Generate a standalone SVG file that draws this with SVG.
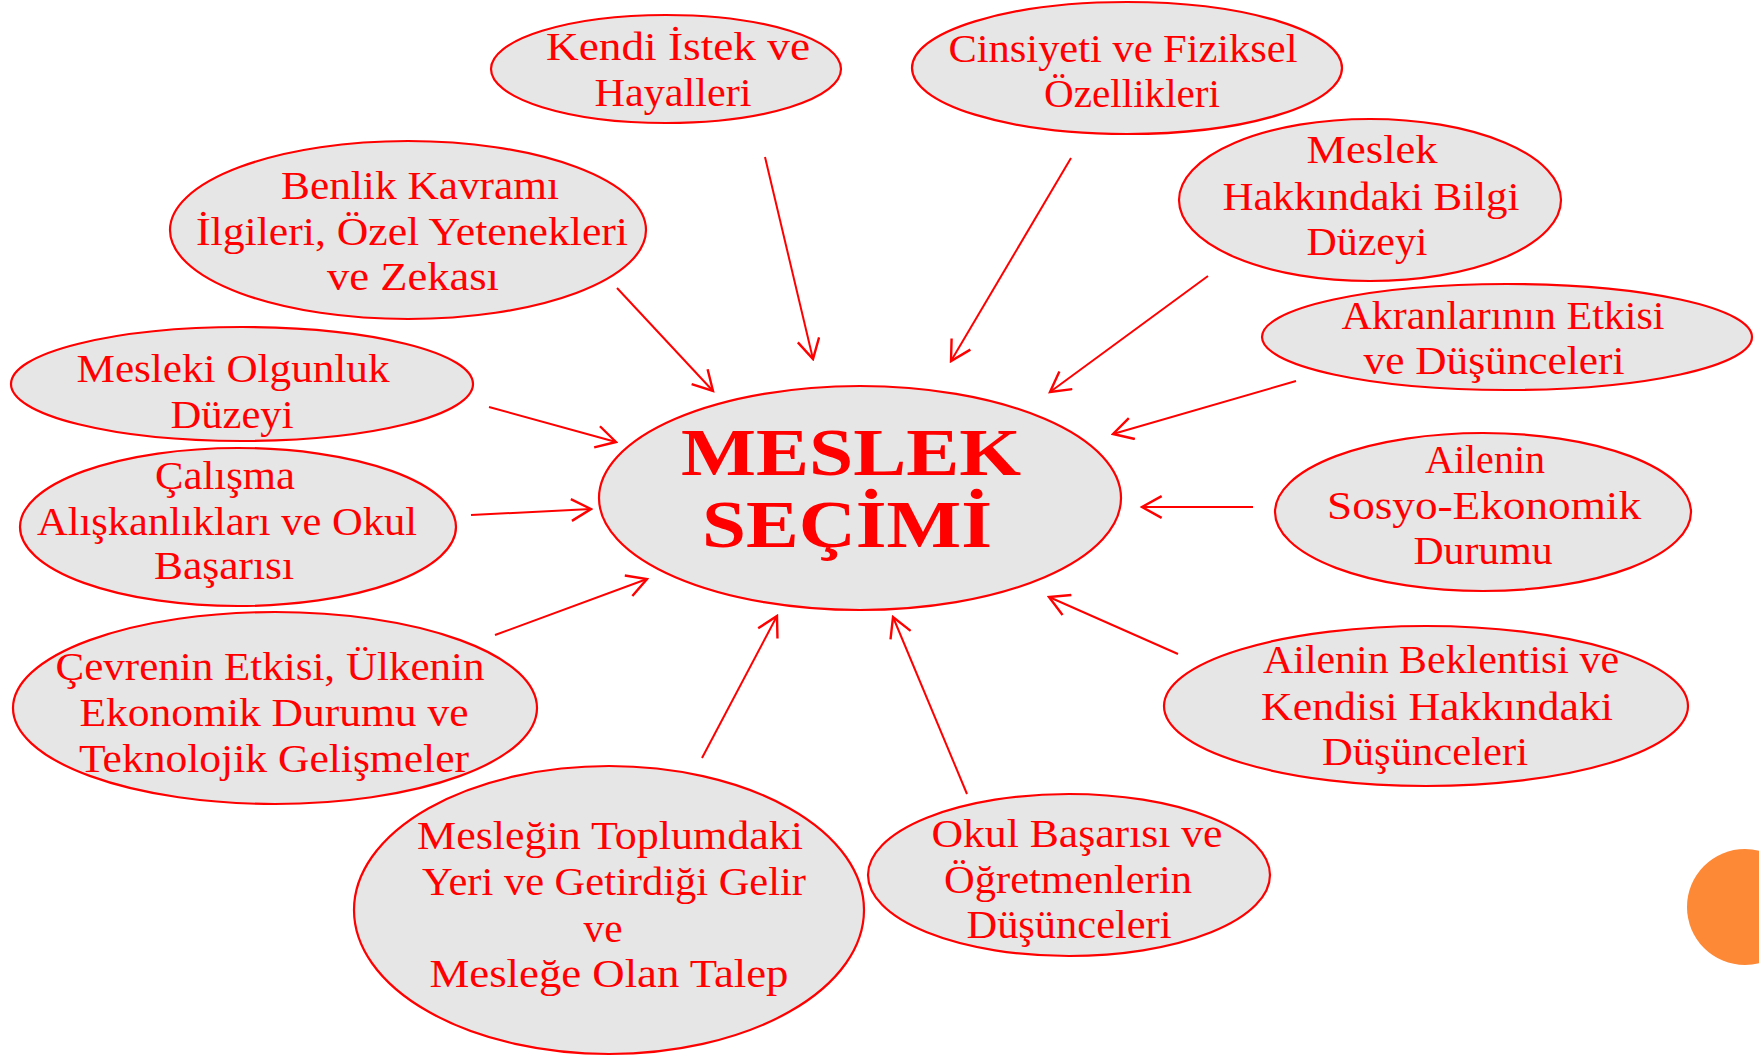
<svg xmlns="http://www.w3.org/2000/svg" width="1759" height="1057" viewBox="0 0 1759 1057">
<defs>
<marker id="ah" markerUnits="userSpaceOnUse" markerWidth="24" markerHeight="24" viewBox="0 0 22 22" refX="20" refY="11" orient="auto">
<path d="M2,1 L20,11 L2,21" fill="none" stroke="#ff0000" stroke-width="2.2"/>
</marker>
<style>
.n ellipse{fill:#e6e6e6;stroke:#ff0000;stroke-width:2.2}
.n text{font-family:"Liberation Serif","Times New Roman",serif;font-size:40px;fill:#ff0000;text-anchor:middle}
.c line{stroke:#ff0000;stroke-width:2;marker-end:url(#ah)}
.big{font-weight:bold;font-size:68px !important}
</style>
</defs>
<rect width="1759" height="1057" fill="#ffffff"/>
<g class="c" id="connectors">
<line x1="765" y1="157" x2="813" y2="359"/>
<line x1="1071" y1="158" x2="951" y2="361"/>
<line x1="1208" y1="276" x2="1050" y2="392"/>
<line x1="1296" y1="381" x2="1113" y2="434"/>
<line x1="1253" y1="507" x2="1142" y2="507"/>
<line x1="1178" y1="654" x2="1049" y2="597"/>
<line x1="967" y1="794" x2="893" y2="617"/>
<line x1="702" y1="758" x2="777" y2="616"/>
<line x1="495" y1="635" x2="647" y2="579"/>
<line x1="471" y1="515" x2="591" y2="509"/>
<line x1="489" y1="407" x2="616" y2="442"/>
<line x1="617" y1="288" x2="713" y2="391"/>
</g>
<g class="n" id="center">
<ellipse cx="860" cy="498" rx="261" ry="112"/>
<text class="big" x="851" y="475" textLength="340" lengthAdjust="spacingAndGlyphs">MESLEK</text>
<text class="big" x="847" y="547" textLength="290" lengthAdjust="spacingAndGlyphs">SEÇİMİ</text>
</g>
<g class="n" id="n1">
<ellipse cx="666" cy="69" rx="175" ry="54"/>
<text x="678" y="60" textLength="264" lengthAdjust="spacingAndGlyphs">Kendi İstek ve</text>
<text x="673" y="106" textLength="157" lengthAdjust="spacingAndGlyphs">Hayalleri</text>
</g>
<g class="n" id="n2">
<ellipse cx="1127" cy="68" rx="215" ry="66"/>
<text x="1123" y="62" textLength="349" lengthAdjust="spacingAndGlyphs">Cinsiyeti ve Fiziksel</text>
<text x="1132" y="107" textLength="176" lengthAdjust="spacingAndGlyphs">Özellikleri</text>
</g>
<g class="n" id="n3">
<ellipse cx="1370" cy="200" rx="191" ry="81"/>
<text x="1372" y="163" textLength="131" lengthAdjust="spacingAndGlyphs">Meslek</text>
<text x="1371" y="210" textLength="297" lengthAdjust="spacingAndGlyphs">Hakkındaki Bilgi</text>
<text x="1367" y="255" textLength="121" lengthAdjust="spacingAndGlyphs">Düzeyi</text>
</g>
<g class="n" id="n4">
<ellipse cx="1507" cy="337" rx="245" ry="53"/>
<text x="1503" y="329" textLength="323" lengthAdjust="spacingAndGlyphs">Akranlarının Etkisi</text>
<text x="1494" y="374" textLength="261" lengthAdjust="spacingAndGlyphs">ve Düşünceleri</text>
</g>
<g class="n" id="n5">
<ellipse cx="1483" cy="512" rx="208" ry="79"/>
<text x="1485" y="473" textLength="120" lengthAdjust="spacingAndGlyphs">Ailenin</text>
<text x="1484" y="519" textLength="314" lengthAdjust="spacingAndGlyphs">Sosyo-Ekonomik</text>
<text x="1483" y="564" textLength="139" lengthAdjust="spacingAndGlyphs">Durumu</text>
</g>
<g class="n" id="n6">
<ellipse cx="1426" cy="706" rx="262" ry="80"/>
<text x="1441" y="673" textLength="356" lengthAdjust="spacingAndGlyphs">Ailenin Beklentisi ve</text>
<text x="1437" y="720" textLength="352" lengthAdjust="spacingAndGlyphs">Kendisi Hakkındaki</text>
<text x="1425" y="765" textLength="206" lengthAdjust="spacingAndGlyphs">Düşünceleri</text>
</g>
<g class="n" id="n7">
<ellipse cx="1069" cy="875" rx="201" ry="81"/>
<text x="1077" y="847" textLength="291" lengthAdjust="spacingAndGlyphs">Okul Başarısı ve</text>
<text x="1068" y="893" textLength="248" lengthAdjust="spacingAndGlyphs">Öğretmenlerin</text>
<text x="1069" y="938" textLength="205" lengthAdjust="spacingAndGlyphs">Düşünceleri</text>
</g>
<g class="n" id="n8">
<ellipse cx="609" cy="910" rx="255" ry="144"/>
<text x="610" y="849" textLength="386" lengthAdjust="spacingAndGlyphs">Mesleğin Toplumdaki</text>
<text x="614" y="895" textLength="384" lengthAdjust="spacingAndGlyphs">Yeri ve Getirdiği Gelir</text>
<text x="603" y="942" textLength="39" lengthAdjust="spacingAndGlyphs">ve</text>
<text x="609" y="987" textLength="359" lengthAdjust="spacingAndGlyphs">Mesleğe Olan Talep</text>
</g>
<g class="n" id="n9">
<ellipse cx="275" cy="708" rx="262" ry="96"/>
<text x="270" y="680" textLength="429" lengthAdjust="spacingAndGlyphs">Çevrenin Etkisi, Ülkenin</text>
<text x="274" y="726" textLength="389" lengthAdjust="spacingAndGlyphs">Ekonomik Durumu ve</text>
<text x="274" y="772" textLength="390" lengthAdjust="spacingAndGlyphs">Teknolojik Gelişmeler</text>
</g>
<g class="n" id="n10">
<ellipse cx="238" cy="527" rx="218" ry="79"/>
<text x="225" y="489" textLength="140" lengthAdjust="spacingAndGlyphs">Çalışma</text>
<text x="227" y="535" textLength="380" lengthAdjust="spacingAndGlyphs">Alışkanlıkları ve Okul</text>
<text x="224" y="579" textLength="140" lengthAdjust="spacingAndGlyphs">Başarısı</text>
</g>
<g class="n" id="n11">
<ellipse cx="242" cy="384" rx="231" ry="57"/>
<text x="233" y="382" textLength="313" lengthAdjust="spacingAndGlyphs">Mesleki Olgunluk</text>
<text x="232" y="428" textLength="123" lengthAdjust="spacingAndGlyphs">Düzeyi</text>
</g>
<g class="n" id="n12">
<ellipse cx="408" cy="230" rx="238" ry="89"/>
<text x="420" y="199" textLength="278" lengthAdjust="spacingAndGlyphs">Benlik Kavramı</text>
<text x="412" y="245" textLength="432" lengthAdjust="spacingAndGlyphs">İlgileri, Özel Yetenekleri</text>
<text x="413" y="290" textLength="172" lengthAdjust="spacingAndGlyphs">ve Zekası</text>
</g>
<circle cx="1745" cy="907" r="58" fill="#fd8836"/>
</svg>
